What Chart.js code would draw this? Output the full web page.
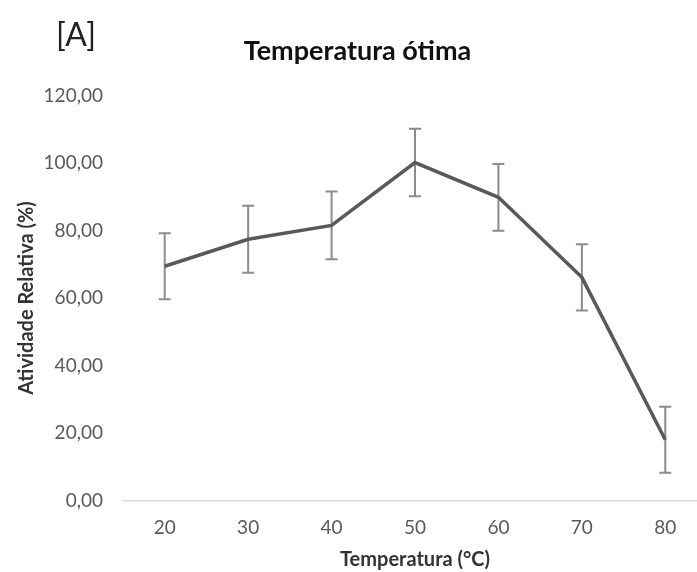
<!doctype html>
<html lang="pt">
  <head>
    <meta charset="utf-8">
    <script src="https://cdn.jsdelivr.net/npm/chart.js"></script>
    <title>Temperatura ótima</title>
    <style>
      body { margin: 0; background: #fff; overflow: hidden; }
      #wrap { position: relative; width: 697px; height: 572px; overflow: hidden; }
      #tag { position: absolute; left: 56px; top: 18px; font: 32px Lato, sans-serif; line-height: 1; color: #222; }
    </style>
  </head>
  <body>
   <div id="wrap">
     <canvas id="temp" width="710" height="572"></canvas>
     <div id="tag">[A]</div>
   </div>

   <script>
    // data
    const temps = ['20', '30', '40', '50', '60', '70', '80'];
    const atividade = [69.4, 77.4, 81.5, 100.1, 89.8, 66.1, 18.0];
    const erro = [9.8, 9.9, 10.0, 10.0, 9.9, 9.8, 9.8];
    const yTicks = [0, 20, 40, 60, 80, 100, 120];

    const grey = '#595959';

    // vertical error bars, drawn under the line
    const errorBars = {
      id: 'errorBars',
      beforeDatasetsDraw(chart) {
        const ctx = chart.ctx;
        const y = chart.scales.y;
        const pts = chart.getDatasetMeta(0).data;
        ctx.save();
        ctx.strokeStyle = '#8c8c8c';
        ctx.lineWidth = 2;
        pts.forEach((p, i) => {
          const top = y.getPixelForValue(atividade[i] + erro[i]);
          const bot = y.getPixelForValue(atividade[i] - erro[i]);
          ctx.beginPath();
          ctx.moveTo(p.x, top); ctx.lineTo(p.x, bot);
          ctx.moveTo(p.x - 6, top); ctx.lineTo(p.x + 6, top);
          ctx.moveTo(p.x - 6, bot); ctx.lineTo(p.x + 6, bot);
          ctx.stroke();
        });
        ctx.restore();
      }
    };

    new Chart(document.getElementById('temp'), {
      type: 'line',
      data: {
        labels: temps,
        datasets: [{
          label: 'Atividade Relativa (%)',
          data: atividade,
          borderColor: grey,
          borderWidth: 3.5,
          pointRadius: 0,
          tension: 0
        }]
      },
      options: {
        responsive: false,
        animation: false,
        devicePixelRatio: 1,
        layout: { padding: { left: 8, right: 3, top: 0, bottom: 0 } },
        plugins: {
          legend: { display: false },
          tooltip: { enabled: false },
          title: {
            display: true,
            text: 'Temperatura ótima',
            color: '#111',
            font: { family: 'Lato', size: 27, weight: 'bold' },
            padding: { top: 35, bottom: 28 }
          }
        },
        scales: {
          x: {
            offset: true,
            grid: { display: false, drawTicks: false },
            border: { color: '#d9d9d9', width: 1.5 },
            ticks: { color: grey, font: { family: 'Lato', size: 19 }, padding: 16 },
            title: {
              display: true,
              text: 'Temperatura (°C)',
              color: '#333',
              font: { family: 'Lato', size: 20, weight: 'bold' },
              padding: { top: 1, bottom: 0 }
            },
            afterFit(s) { s.height = 71.5; }
          },
          y: {
            min: 0,
            max: 120,
            grid: { display: false, drawTicks: false },
            border: { display: false },
            afterBuildTicks(s) { s.ticks = yTicks.map(v => ({ value: v })); },
            ticks: {
              color: grey,
              font: { family: 'Lato', size: 19 },
              padding: 20,
              callback: v => v.toFixed(2).replace('.', ',')
            },
            title: {
              display: true,
              text: 'Atividade Relativa (%)',
              color: '#333',
              font: { family: 'Lato', size: 20, weight: 'bold' },
              padding: { top: 7, bottom: 0 }
            },
            afterFit(s) { s.width = 115; }
          }
        }
      },
      plugins: [errorBars]
    });
   </script>
  </body>
</html>
